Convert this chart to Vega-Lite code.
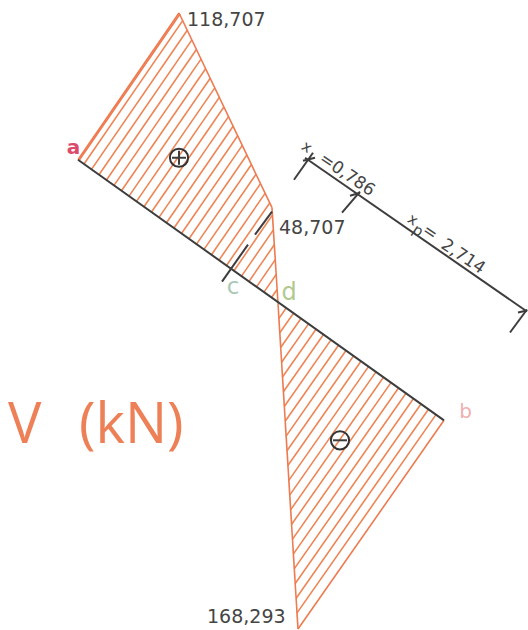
{"$schema":"https://vega.github.io/schema/vega-lite/v6.json","width":528,"height":630,"padding":0,"autosize":{"type":"fit","contains":"padding"},"background":"white","view":{"stroke":null},
"datasets":{
"hatch":[{"x":84,"y":164.3,"x2":182.7,"y2":20.7},{"x":91.5,"y":169.6,"x2":187.3,"y2":30.3},{"x":99,"y":175,"x2":191.9,"y2":39.9},{"x":106.5,"y":180.3,"x2":196.4,"y2":49.6},{"x":114,"y":185.7,"x2":201,"y2":59.2},{"x":121.5,"y":191,"x2":205.6,"y2":68.8},{"x":129,"y":196.4,"x2":210.2,"y2":78.4},{"x":136.5,"y":201.7,"x2":214.8,"y2":88},{"x":144,"y":207.1,"x2":219.3,"y2":97.5},{"x":151.5,"y":212.4,"x2":223.9,"y2":107.2},{"x":159,"y":217.7,"x2":228.5,"y2":116.8},{"x":166.5,"y":223.1,"x2":233.1,"y2":126.4},{"x":174,"y":228.4,"x2":237.7,"y2":136},{"x":181.5,"y":233.8,"x2":242.3,"y2":145.6},{"x":189,"y":239.1,"x2":246.8,"y2":155.2},{"x":196.5,"y":244.5,"x2":251.4,"y2":164.8},{"x":204,"y":249.8,"x2":256,"y2":174.5},{"x":211.5,"y":255.2,"x2":260.5,"y2":183.9},{"x":219,"y":260.5,"x2":265.1,"y2":193.7},{"x":226.5,"y":265.9,"x2":269.7,"y2":203.3},{"x":234,"y":271.2,"x2":272.5,"y2":215.2},{"x":241.5,"y":276.6,"x2":273.4,"y2":230.2},{"x":249,"y":281.9,"x2":274.3,"y2":245.1},{"x":256.5,"y":287.3,"x2":275.3,"y2":260},{"x":264,"y":292.6,"x2":276.2,"y2":274.9},{"x":271.5,"y":298,"x2":277.1,"y2":289.9},
{"x":286,"y":308.8,"x2":279,"y2":318.9},{"x":293.5,"y":313.7,"x2":279.8,"y2":333.3},{"x":301,"y":319,"x2":280.7,"y2":348},{"x":308.5,"y":324.4,"x2":281.6,"y2":362.8},{"x":316,"y":329.7,"x2":282.5,"y2":377.6},{"x":323.5,"y":335.1,"x2":283.4,"y2":392.4},{"x":331,"y":340.4,"x2":284.3,"y2":407.2},{"x":338.5,"y":345.8,"x2":285.2,"y2":422},{"x":346,"y":351.1,"x2":286.1,"y2":436.8},{"x":353.5,"y":356.5,"x2":287,"y2":451.5},{"x":361,"y":361.8,"x2":287.9,"y2":466.3},{"x":368.5,"y":367.2,"x2":288.8,"y2":481.1},{"x":376,"y":372.5,"x2":289.7,"y2":495.9},{"x":383.5,"y":377.9,"x2":290.6,"y2":510.7},{"x":391,"y":383.2,"x2":291.5,"y2":525.4},{"x":398.5,"y":388.6,"x2":292.4,"y2":540.2},{"x":406,"y":393.9,"x2":293.3,"y2":555},{"x":413.5,"y":399.2,"x2":294.2,"y2":569.8},{"x":421,"y":404.6,"x2":295.1,"y2":584.6},{"x":428.5,"y":409.9,"x2":296,"y2":599.4},{"x":436,"y":415.3,"x2":296.9,"y2":614.1}],
"outline":[{"x":78,"y":160,"x2":179,"y2":13},{"x":79.5,"y":160,"x2":180,"y2":14},{"x":179,"y":13,"x2":272,"y2":208},{"x":272,"y":208,"x2":278,"y2":304},{"x":278,"y":304,"x2":298,"y2":630},{"x":298,"y":630,"x2":444,"y2":421}],
"dark":[{"x":78,"y":160,"x2":444,"y2":421},{"x":222,"y":282,"x2":248,"y2":245},{"x":255,"y":235,"x2":272,"y2":212},{"x":305,"y":158,"x2":527,"y2":312},{"x":294,"y":180,"x2":313,"y2":153},{"x":342,"y":213,"x2":360,"y2":192},{"x":510,"y":333,"x2":527,"y2":310},{"x":303,"y":161,"x2":315,"y2":158},{"x":350,"y":196,"x2":360,"y2":193},{"x":518,"y":313,"x2":527,"y2":311},{"x":172,"y":158,"x2":186,"y2":158},{"x":179,"y":151,"x2":179,"y2":165},{"x":333,"y":441,"x2":347,"y2":441}],
"circles":[{"x":179,"y":158,"sign":"+"},{"x":340,"y":441,"sign":"-"}],
"values":[{"x":187,"y":26,"label":"118,707"},{"x":279,"y":234,"label":"48,707"},{"x":207,"y":624,"label":"168,293"}],
"rotated":[{"x":347,"y":175,"label":"=0,786"},{"x":430,"y":233,"label":"="},{"x":463,"y":257,"label":"2,714"}],
"rotatedSmall":[{"x":307,"y":147,"label":"x"},{"x":413,"y":220,"label":"x"},{"x":418,"y":231,"label":"p"}],
"title":[{"x":8,"y":444,"label":"V"},{"x":79,"y":444,"label":"(kN)"}]
},
"encoding":{"x":{"field":"x","type":"quantitative","scale":{"domain":[0,528],"nice":false,"zero":false},"axis":null},"y":{"field":"y","type":"quantitative","scale":{"domain":[630,0],"nice":false,"zero":false},"axis":null}},
"layer":[
{"data":{"name":"hatch"},"mark":{"type":"rule","color":"#ee8555","strokeWidth":1.6},"encoding":{"x2":{"field":"x2"},"y2":{"field":"y2"}}},
{"data":{"name":"outline"},"mark":{"type":"rule","color":"#ee7a50","strokeWidth":1.6},"encoding":{"x2":{"field":"x2"},"y2":{"field":"y2"}}},
{"data":{"name":"dark"},"mark":{"type":"rule","color":"#3d3d3d","strokeWidth":2},"encoding":{"x2":{"field":"x2"},"y2":{"field":"y2"}}},
{"data":{"name":"circles"},"mark":{"type":"point","shape":"circle","size":330,"filled":false,"color":"#333333","strokeWidth":2,"opacity":1}},
{"data":{"name":"values"},"mark":{"type":"text","align":"left","baseline":"alphabetic","font":"DejaVu Sans","fontSize":19,"color":"#454545"},"encoding":{"text":{"field":"label"}}},
{"data":{"name":"rotated"},"mark":{"type":"text","align":"center","baseline":"middle","angle":34,"font":"DejaVu Sans","fontSize":17,"color":"#454545"},"encoding":{"text":{"field":"label"}}},
{"data":{"name":"rotatedSmall"},"mark":{"type":"text","align":"center","baseline":"middle","angle":34,"font":"DejaVu Sans","fontSize":15,"color":"#454545"},"encoding":{"text":{"field":"label"}}},
{"data":{"name":"title"},"mark":{"type":"text","align":"left","baseline":"alphabetic","font":"Open Sans","fontSize":56,"color":"#ee8058"},"encoding":{"text":{"field":"label"}}},
{"data":{"values":[{"x":73.5,"y":148,"label":"a"}]},"mark":{"type":"text","align":"center","baseline":"middle","font":"DejaVu Sans","fontWeight":"bold","fontSize":20,"color":"#dc4a6c"},"encoding":{"text":{"field":"label"}}},
{"data":{"values":[{"x":233,"y":287,"label":"c"}]},"mark":{"type":"text","align":"center","baseline":"middle","font":"DejaVu Sans","fontSize":23,"color":"#a9c9b4"},"encoding":{"text":{"field":"label"}}},
{"data":{"values":[{"x":289,"y":293,"label":"d"}]},"mark":{"type":"text","align":"center","baseline":"middle","font":"DejaVu Sans","fontSize":24,"color":"#b1c98f"},"encoding":{"text":{"field":"label"}}},
{"data":{"values":[{"x":465.5,"y":413,"label":"b"}]},"mark":{"type":"text","align":"center","baseline":"middle","font":"DejaVu Sans","fontSize":20,"color":"#efb0b0"},"encoding":{"text":{"field":"label"}}}
]}
